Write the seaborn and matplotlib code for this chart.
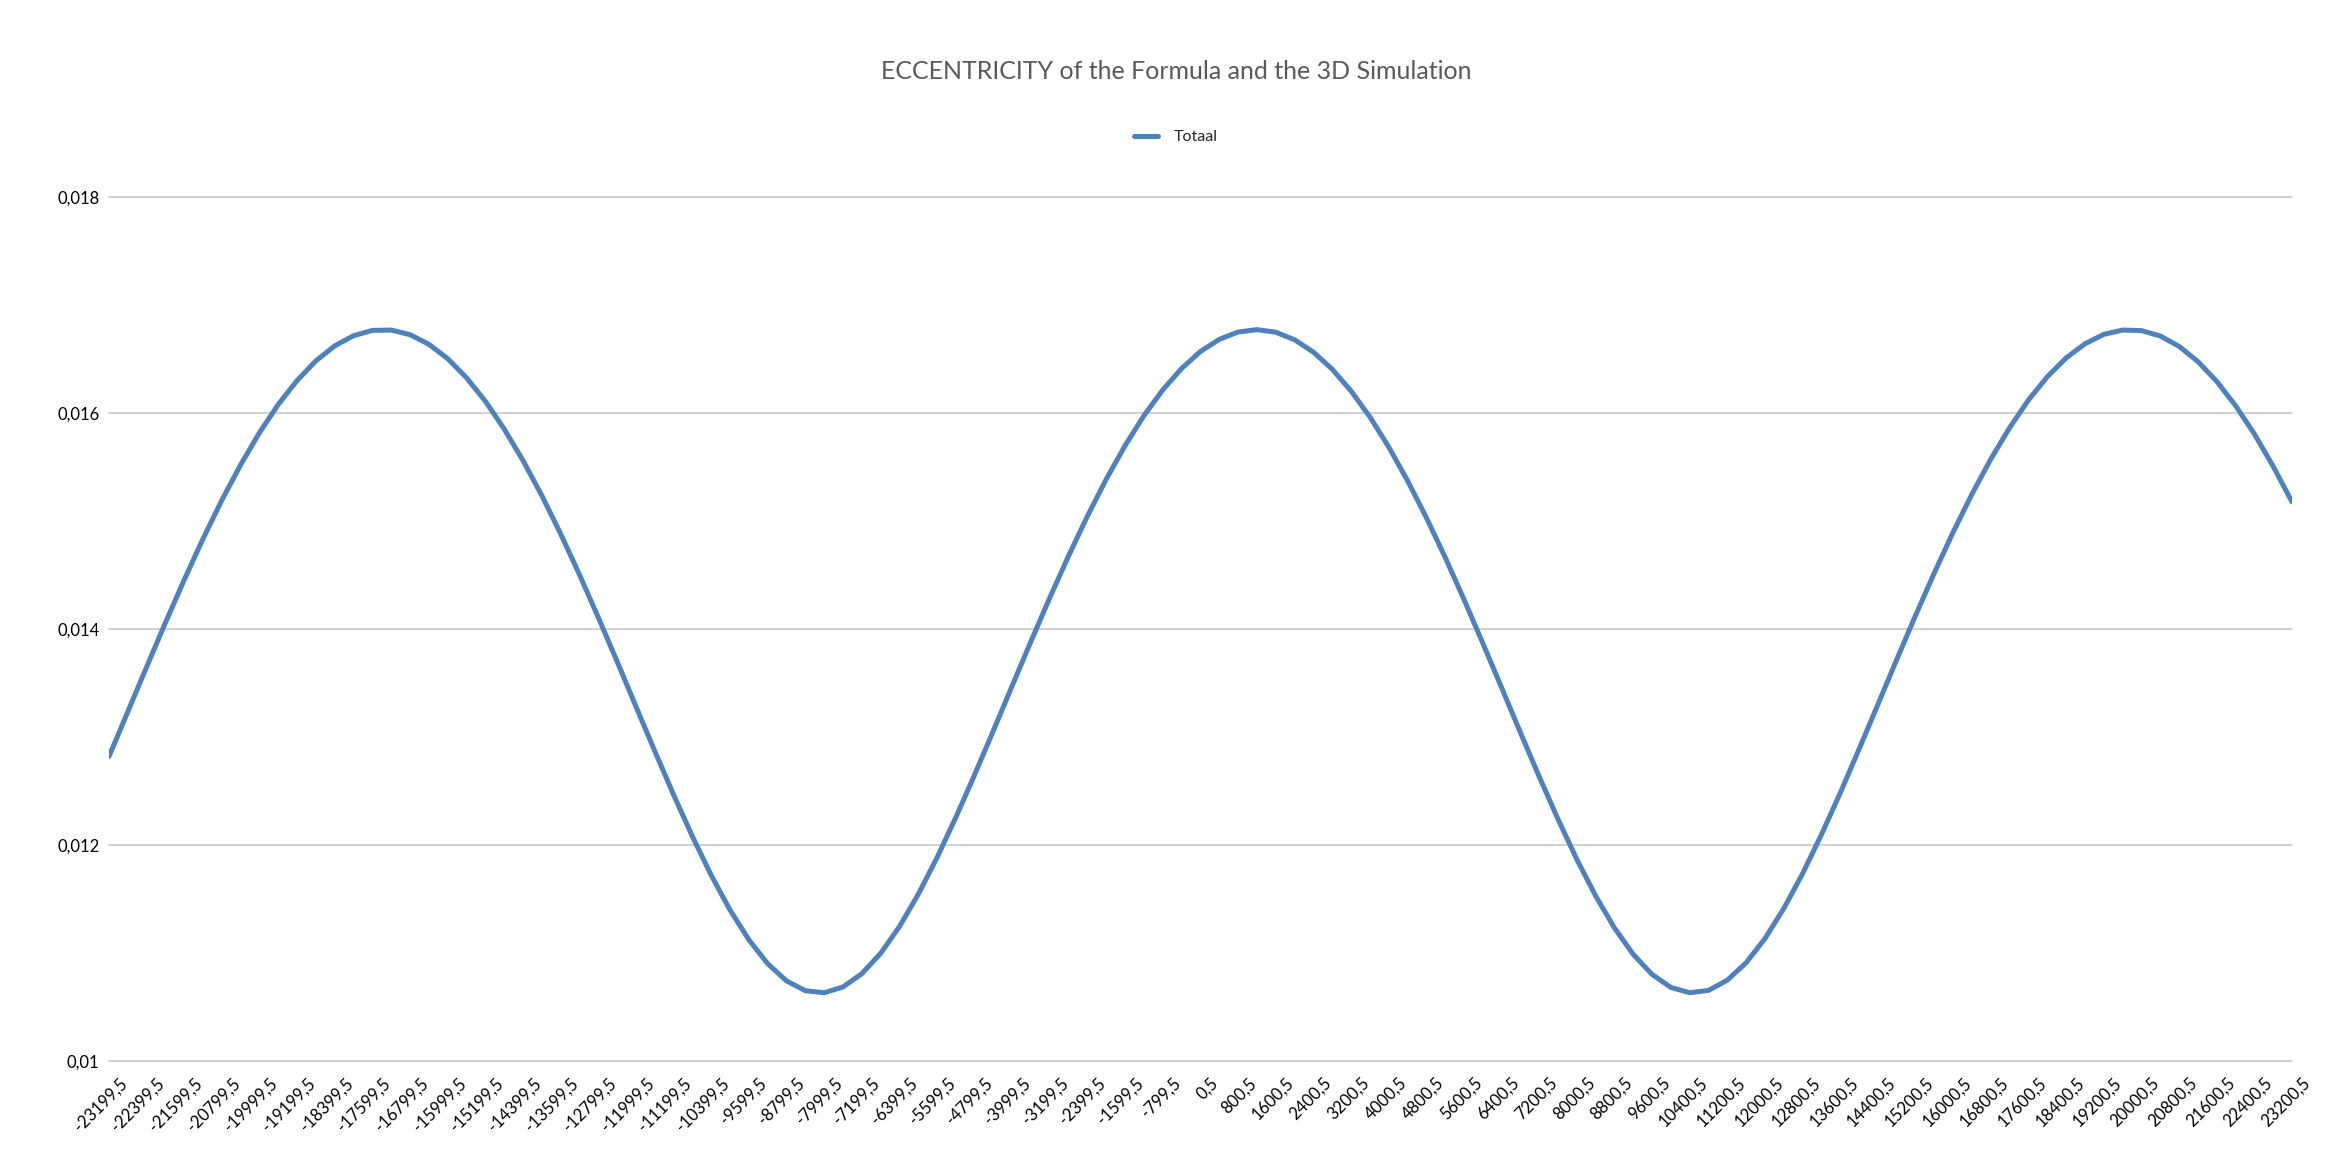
import matplotlib
matplotlib.use("Agg")
import matplotlib.pyplot as plt
import matplotlib.transforms as mtransforms
import seaborn as sns
import pandas as pd

# years of the data points (every 400 years)
jaren = [
    -23199.5, -22799.5, -22399.5, -21999.5, -21599.5, -21199.5, -20799.5, -20399.5, -19999.5, -19599.5,
    -19199.5, -18799.5, -18399.5, -17999.5, -17599.5, -17199.5, -16799.5, -16399.5, -15999.5, -15599.5,
    -15199.5, -14799.5, -14399.5, -13999.5, -13599.5, -13199.5, -12799.5, -12399.5, -11999.5, -11599.5,
    -11199.5, -10799.5, -10399.5, -9999.5, -9599.5, -9199.5, -8799.5, -8399.5, -7999.5, -7599.5,
    -7199.5, -6799.5, -6399.5, -5999.5, -5599.5, -5199.5, -4799.5, -4399.5, -3999.5, -3599.5,
    -3199.5, -2799.5, -2399.5, -1999.5, -1599.5, -1199.5, -799.5, -399.5, 0.5, 400.5,
    800.5, 1200.5, 1600.5, 2000.5, 2400.5, 2800.5, 3200.5, 3600.5, 4000.5, 4400.5,
    4800.5, 5200.5, 5600.5, 6000.5, 6400.5, 6800.5, 7200.5, 7600.5, 8000.5, 8400.5,
    8800.5, 9200.5, 9600.5, 10000.5, 10400.5, 10800.5, 11200.5, 11600.5, 12000.5, 12400.5,
    12800.5, 13200.5, 13600.5, 14000.5, 14400.5, 14800.5, 15200.5, 15600.5, 16000.5, 16400.5,
    16800.5, 17200.5, 17600.5, 18000.5, 18400.5, 18800.5, 19200.5, 19600.5, 20000.5, 20400.5,
    20800.5, 21200.5, 21600.5, 22000.5, 22400.5, 22800.5, 23200.5,
]

# eccentricity ("Totaal")
totaal = [
    0.012820, 0.013234, 0.013649, 0.014059, 0.014456, 0.014837, 0.015194, 0.015522, 0.015819, 0.016080,
    0.016302, 0.016484, 0.016622, 0.016716, 0.016765, 0.016768, 0.016725, 0.016636, 0.016503, 0.016326,
    0.016109, 0.015852, 0.015560, 0.015235, 0.014881, 0.014503, 0.014107, 0.013699, 0.013283, 0.012870,
    0.012466, 0.012080, 0.011720, 0.011398, 0.011123, 0.010901, 0.010742, 0.010651, 0.010632, 0.010685,
    0.010808, 0.010996, 0.011244, 0.011543, 0.011883, 0.012256, 0.012652, 0.013061, 0.013477, 0.013889,
    0.014293, 0.014681, 0.015048, 0.015390, 0.015700, 0.015977, 0.016215, 0.016413, 0.016570, 0.016682,
    0.016750, 0.016772, 0.016748, 0.016678, 0.016564, 0.016405, 0.016204, 0.015964, 0.015686, 0.015374,
    0.015032, 0.014664, 0.014274, 0.013869, 0.013457, 0.013041, 0.012632, 0.012238, 0.011866, 0.011528,
    0.011231, 0.010986, 0.010801, 0.010681, 0.010632, 0.010654, 0.010749, 0.010911, 0.011135, 0.011414,
    0.011737, 0.012098, 0.012484, 0.012890, 0.013303, 0.013719, 0.014127, 0.014522, 0.014899, 0.015251,
    0.015575, 0.015865, 0.016121, 0.016336, 0.016510, 0.016641, 0.016728, 0.016768, 0.016763, 0.016713,
    0.016617, 0.016476, 0.016293, 0.016068, 0.015806, 0.015506, 0.015177,
]

# labelled categories on the x axis (every 800 years)
x_ticks = [
    -23199.5, -22399.5, -21599.5, -20799.5, -19999.5, -19199.5, -18399.5,
    -17599.5, -16799.5, -15999.5, -15199.5, -14399.5, -13599.5, -12799.5,
    -11999.5, -11199.5, -10399.5, -9599.5, -8799.5, -7999.5, -7199.5,
    -6399.5, -5599.5, -4799.5, -3999.5, -3199.5, -2399.5, -1599.5, -799.5,
    0.5, 800.5, 1600.5, 2400.5, 3200.5, 4000.5, 4800.5, 5600.5, 6400.5,
    7200.5, 8000.5, 8800.5, 9600.5, 10400.5, 11200.5, 12000.5, 12800.5,
    13600.5, 14400.5, 15200.5, 16000.5, 16800.5, 17600.5, 18400.5, 19200.5,
    20000.5, 20800.5, 21600.5, 22400.5, 23200.5,
]
x_labels = [f"{j:.1f}".replace(".", ",") for j in x_ticks]

y_ticks = [0.010, 0.012, 0.014, 0.016, 0.018]
y_labels = ["0,01", "0,012", "0,014", "0,016", "0,018"]

df = pd.DataFrame({"jaar": jaren, "Totaal": totaal})

sns.set_theme(style="white")
plt.rcParams["font.family"] = ["Lato", "DejaVu Sans"]

fig = plt.figure(figsize=(23.52, 11.68), dpi=100)
ax = fig.add_axes([0.04634, 0.09161, 0.92815, 0.73973])

sns.lineplot(data=df, x="jaar", y="Totaal", ax=ax, color="#4F81BD",
             linewidth=3.6, label="Totaal", zorder=3)
for ln in ax.get_lines():
    ln.set_solid_joinstyle("round")

ax.set_xlim(x_ticks[0], x_ticks[-1])
ax.set_ylim(0.010, 0.018)
ax.set_yticks(y_ticks)
ax.set_yticklabels(y_labels)
ax.set_xticks(x_ticks)
ax.set_xticklabels(x_labels)
ax.set_xlabel("")
ax.set_ylabel("")

ax.yaxis.grid(True, color="#C9C9C9", linewidth=1.2)
for gl in ax.get_ygridlines():
    gl.set_clip_on(False)
ax.xaxis.grid(False)
for sp in ax.spines.values():
    sp.set_visible(False)

ax.tick_params(axis="both", length=0, labelsize=12, colors="#000000")
ax.tick_params(axis="y", pad=7)
ax.tick_params(axis="x", pad=10)
shift = mtransforms.ScaledTranslation(7 / 72, 0, fig.dpi_scale_trans)
for lab in ax.get_xticklabels():
    lab.set_rotation(45)
    lab.set_ha("right")
    lab.set_va("top")
    lab.set_rotation_mode("anchor")
    lab.set_transform(lab.get_transform() + shift)

fig.text(0.5, 0.9384, "ECCENTRICITY of the Formula and the 3D Simulation",
         ha="center", va="center", fontsize=18, color="#595959")

ax.legend(loc="center", bbox_to_anchor=(0.5, 0.8827),
          bbox_transform=fig.transFigure, frameon=False, fontsize=11.5,
          handlelength=1.5, handletextpad=1.0)

fig.savefig("out.png", dpi=100, facecolor="white")
